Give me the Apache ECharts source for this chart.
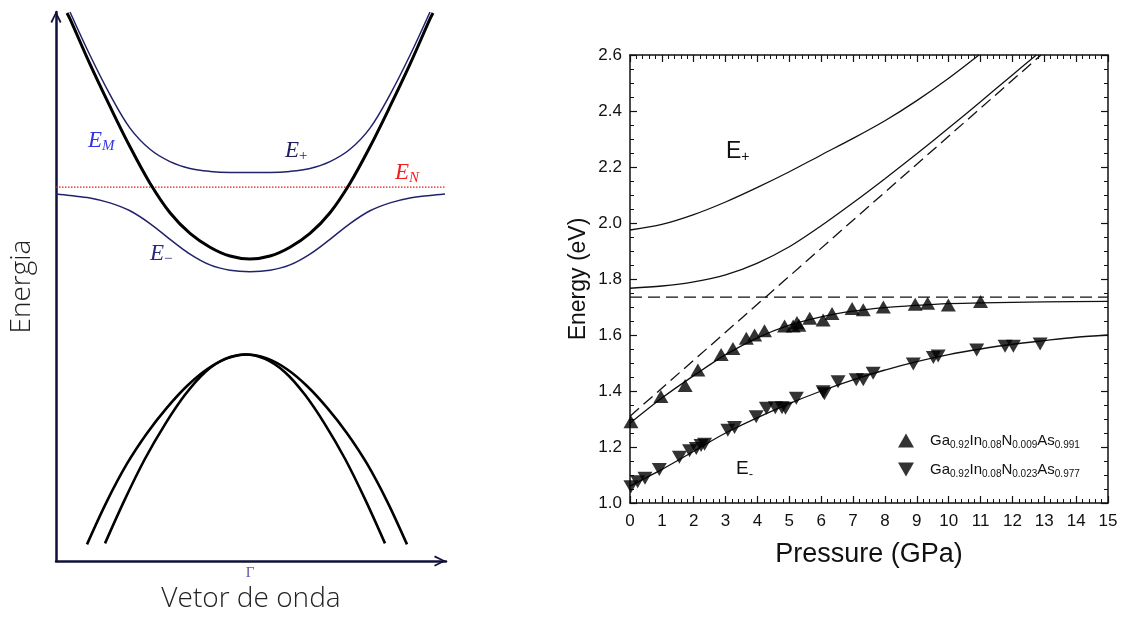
<!DOCTYPE html>
<html><head><meta charset="utf-8">
<script src="https://cdn.jsdelivr.net/npm/echarts@6/dist/echarts.min.js"></script>
<style>html,body{margin:0;padding:0;background:#fff}#c{width:1127px;height:618px}</style>
</head><body><div id="c"></div>
<script>
// ---------- Left panel: schematic band anticrossing (arbitrary units) ----------
const bandEM = [[-1.83,5.57],[-1.8,5.51],[-1.6,5.05],[-1.4,4.62],[-1.2,4.21],[-1.0,3.84],[-0.8,3.54],[-0.6,3.33],[-0.4,3.19],[-0.2,3.10],[0,3.07],[0.2,3.10],[0.4,3.19],[0.6,3.33],[0.8,3.54],[1.0,3.84],[1.2,4.21],[1.4,4.62],[1.6,5.05],[1.8,5.51],[1.83,5.57]];
const bandEplus = [[-1.8,5.58],[-1.6,5.14],[-1.4,4.74],[-1.2,4.40],[-1.0,4.185],[-0.8,4.06],[-0.6,3.99],[-0.4,3.96],[-0.2,3.95],[0,3.95],[0.2,3.95],[0.4,3.96],[0.6,3.99],[0.8,4.06],[1.0,4.185],[1.2,4.40],[1.4,4.74],[1.6,5.14],[1.8,5.58]];
const bandEminus = [[-1.94,3.73],[-1.8,3.715],[-1.6,3.69],[-1.4,3.64],[-1.2,3.56],[-1.0,3.43],[-0.8,3.27],[-0.6,3.12],[-0.4,3.01],[-0.2,2.955],[0,2.94],[0.2,2.955],[0.4,3.01],[0.6,3.12],[0.8,3.27],[1.0,3.43],[1.2,3.56],[1.4,3.64],[1.6,3.69],[1.8,3.715],[1.95,3.73]];
const levelEN = [[-1.94,3.80],[1.95,3.80]];
const valenceOuter = [[-1.63,0.17],[-1.43,0.61],[-1.23,0.99],[-1.03,1.30],[-0.83,1.56],[-0.63,1.78],[-0.43,1.95],[-0.23,2.06],[-0.03,2.10],[0.17,2.06],[0.37,1.95],[0.57,1.78],[0.77,1.56],[0.97,1.30],[1.17,0.99],[1.37,0.61],[1.57,0.17]];
const valenceInner = [[-1.45,0.18],[-1.25,0.63],[-1.05,1.04],[-0.85,1.39],[-0.65,1.69],[-0.45,1.92],[-0.25,2.055],[-0.05,2.10],[0.15,2.055],[0.35,1.92],[0.55,1.69],[0.75,1.39],[0.95,1.04],[1.15,0.63],[1.35,0.18]];
const gammaTick = [0];

// ---------- Right panel: energy vs pressure ----------
const pressureTicks = [0,1,2,3,4,5,6,7,8,9,10,11,12,13,14,15];
const energyTicks = [1.0,1.2,1.4,1.6,1.8,2.0,2.2,2.4,2.6];
const nameX009 = 'Ga0.92In0.08N0.009As0.991';
const nameX023 = 'Ga0.92In0.08N0.023As0.977';
const pts009 = [[0.03,1.29],[0.97,1.38],[1.73,1.42],[2.13,1.475],[2.86,1.53],[3.23,1.552],[3.65,1.588],[3.91,1.60],[4.22,1.615],[4.85,1.632],[5.12,1.632],[5.24,1.645],[5.3,1.635],[5.64,1.66],[6.06,1.654],[6.34,1.677],[6.97,1.695],[7.32,1.69],[7.95,1.70],[8.95,1.71],[9.34,1.713],[9.99,1.707],[11.0,1.72]];
const pts023 = [[0.03,1.058],[0.24,1.076],[0.47,1.088],[0.92,1.12],[1.55,1.163],[1.87,1.187],[2.08,1.195],[2.23,1.205],[2.34,1.21],[3.07,1.26],[3.28,1.27],[3.96,1.308],[4.28,1.338],[4.56,1.34],[4.77,1.34],[4.88,1.338],[5.22,1.374],[6.06,1.397],[6.1,1.39],[6.53,1.433],[7.1,1.44],[7.32,1.44],[7.63,1.463],[8.89,1.496],[9.52,1.52],[9.67,1.525],[10.88,1.546],[11.77,1.56],[12.03,1.56],[12.87,1.568]];
const fitMinus009 = [[0,1.285],[1,1.375],[2,1.455],[3,1.53],[4,1.59],[5,1.635],[6,1.665],[7,1.685],[8,1.698],[9,1.706],[10,1.712],[11,1.715],[13,1.718],[15,1.72]];
const fitMinus023 = [[0,1.06],[1,1.12],[2,1.185],[3,1.25],[4,1.305],[5,1.355],[6,1.40],[7,1.44],[8,1.475],[9,1.505],[10,1.53],[11,1.55],[12,1.567],[13,1.58],[14,1.592],[15,1.60]];
const fitPlus009 = [[0,1.767],[1,1.775],[2,1.79],[3,1.815],[4,1.857],[5,1.915],[6,1.99],[7,2.072],[8,2.158],[9,2.247],[10,2.339],[11,2.433],[12,2.529],[12.75,2.6]];
const fitPlus023 = [[0,1.975],[1,1.995],[2,2.03],[3,2.075],[4,2.127],[5,2.183],[6,2.243],[7,2.302],[8,2.365],[9,2.437],[10,2.517],[10.95,2.6]];
const levelN = [[0,1.735],[15,1.735]];
const hostBand = [[0,1.31],[12.9,2.6]];

const chart = echarts.init(document.getElementById('c'));
const AR = 'Liberation Sans';
const navy = '#22226a';
const axNavy = '#10103a';
const chevron = 'path://M0,12L6,0L12,12L10.2,12.9L6,3.8L1.8,12.9Z';

function richFormula(name){ return name.replace(/([A-Za-z]+)([0-9.]+)/g, '{n|$1}{s|$2}'); }

const rightTickAxis = (pos, showLabel, extra) => Object.assign({
  gridIndex: 1, type: 'value', position: pos,
  axisLine: {show: true, onZero: false, lineStyle: {color: '#111', width: 1.5}},
  axisTick: {show: true, inside: true, length: 7, lineStyle: {color: '#111', width: 1.2}},
  splitLine: {show: false},
  axisLabel: {show: showLabel, color: '#111', fontFamily: AR, fontSize: 17}
}, extra);

const option = {
  animation: false,
  backgroundColor: '#fff',
  grid: [
    {left: 56, top: 12, width: 390, height: 558},
    {left: 630, top: 55, width: 478, height: 448}
  ],
  xAxis: [
    {gridIndex: 0, type: 'value', min: -1.94, max: 1.96,
     axisLine: {show: true, onZero: false, lineStyle: {color: axNavy, width: 2.5}, symbol: ['none', chevron], symbolSize: [11, 12], symbolOffset: [0, -6]},
     axisTick: {show: false}, splitLine: {show: false},
     axisLabel: {customValues: gammaTick, formatter: () => 'Γ', color: '#5a5ab0', fontFamily: 'Liberation Serif', fontSize: 15, margin: 4},
     name: 'Vetor de onda', nameLocation: 'middle', nameGap: 23,
     nameTextStyle: {fontFamily: 'Open Sans', fontWeight: 300, fontSize: 28, color: '#222'}},
    rightTickAxis('bottom', true, {min: pressureTicks[0], max: pressureTicks[pressureTicks.length-1], interval: 1,
      minorTick: {show: true, splitNumber: 5, length: 4, lineStyle: {color: '#111', width: 1}},
      axisLabel: {show: true, color: '#111', fontFamily: AR, fontSize: 17, margin: 10},
      name: 'Pressure (GPa)', nameLocation: 'middle', nameGap: 38,
      nameTextStyle: {fontFamily: AR, fontSize: 27, color: '#111'}}),
    rightTickAxis('top', false, {min: pressureTicks[0], max: pressureTicks[pressureTicks.length-1], interval: 1,
      minorTick: {show: true, splitNumber: 5, length: 4, lineStyle: {color: '#111', width: 1}}})
  ],
  yAxis: [
    {gridIndex: 0, type: 'value', min: 0, max: 5.58,
     axisLine: {show: true, onZero: false, lineStyle: {color: axNavy, width: 2.5}, symbol: ['none', chevron], symbolSize: [11, 12], symbolOffset: [0, -5]},
     axisTick: {show: false}, splitLine: {show: false}, axisLabel: {show: false},
     name: 'Energia', nameLocation: 'middle', nameGap: 20, nameRotate: 90,
     nameTextStyle: {fontFamily: 'Open Sans', fontWeight: 300, fontSize: 28, color: '#222'}},
    rightTickAxis('left', true, {min: energyTicks[0], max: energyTicks[energyTicks.length-1], interval: 0.2,
      minorTick: {show: true, splitNumber: 4, length: 4, lineStyle: {color: '#111', width: 1}},
      axisLabel: {show: true, color: '#111', fontFamily: AR, fontSize: 17, margin: 8, formatter: v => v.toFixed(1)},
      name: 'Energy (eV)', nameLocation: 'middle', nameGap: 40, nameRotate: 90,
      nameTextStyle: {fontFamily: AR, fontSize: 23, color: '#111'}}),
    rightTickAxis('right', false, {min: energyTicks[0], max: energyTicks[energyTicks.length-1], interval: 0.2,
      minorTick: {show: true, splitNumber: 4, length: 4, lineStyle: {color: '#111', width: 1}}})
  ],
  legend: {
    data: [nameX009, nameX023], orient: 'vertical', left: 893, top: 426,
    itemWidth: 16, itemHeight: 14, itemGap: 10,
    formatter: richFormula,
    textStyle: {color: '#111', padding: [0,0,0,11], rich: {
      n: {fontFamily: AR, fontSize: 15, lineHeight: 18, color: '#111'},
      s: {fontFamily: AR, fontSize: 10, lineHeight: 10, padding: [9,0,0,0], color: '#111'}
    }}
  },
  series: [
    // left panel
    {type: 'line', xAxisIndex: 0, yAxisIndex: 0, data: levelEN, showSymbol: false, lineStyle: {color: '#f01818', width: 1.3, type: [1.5, 1.5]}},
    {type: 'line', xAxisIndex: 0, yAxisIndex: 0, data: bandEplus, smooth: 0.35, showSymbol: false, lineStyle: {color: navy, width: 1.5}},
    {type: 'line', xAxisIndex: 0, yAxisIndex: 0, data: bandEminus, smooth: 0.35, showSymbol: false, lineStyle: {color: navy, width: 1.5}},
    {type: 'line', xAxisIndex: 0, yAxisIndex: 0, data: bandEM, smooth: 0.35, showSymbol: false, lineStyle: {color: '#000', width: 3}},
    {type: 'line', xAxisIndex: 0, yAxisIndex: 0, data: valenceOuter, smooth: 0.35, showSymbol: false, lineStyle: {color: '#000', width: 2.6}},
    {type: 'line', xAxisIndex: 0, yAxisIndex: 0, data: valenceInner, smooth: 0.35, showSymbol: false, lineStyle: {color: '#000', width: 2.6}},
    // right panel
    {type: 'line', xAxisIndex: 1, yAxisIndex: 1, data: levelN, showSymbol: false, lineStyle: {color: '#111', width: 1.3, type: [12, 6]}},
    {type: 'line', xAxisIndex: 1, yAxisIndex: 1, data: hostBand, showSymbol: false, lineStyle: {color: '#111', width: 1.3, type: [12, 6]}},
    {type: 'line', xAxisIndex: 1, yAxisIndex: 1, data: fitPlus023, smooth: 0.3, showSymbol: false, lineStyle: {color: '#111', width: 1.3}},
    {type: 'line', xAxisIndex: 1, yAxisIndex: 1, data: fitPlus009, smooth: 0.3, showSymbol: false, lineStyle: {color: '#111', width: 1.3}},
    {type: 'line', xAxisIndex: 1, yAxisIndex: 1, data: fitMinus009, smooth: 0.3, showSymbol: false, lineStyle: {color: '#111', width: 1.3}},
    {type: 'line', xAxisIndex: 1, yAxisIndex: 1, data: fitMinus023, smooth: 0.3, showSymbol: false, lineStyle: {color: '#111', width: 1.3}},
    {name: nameX009, type: 'scatter', xAxisIndex: 1, yAxisIndex: 1, data: pts009, symbol: 'path://M5,0L10,8.66L0,8.66Z', symbolSize: [15, 13], itemStyle: {color: '#000'}, z: 5},
    {name: nameX023, type: 'scatter', xAxisIndex: 1, yAxisIndex: 1, data: pts023, symbol: 'path://M0,0L10,0L5,8.66Z', symbolSize: [15, 13], itemStyle: {color: '#000'}, z: 5}
  ],
  graphic: [
    {type: 'text', x: 88, y: 141, style: {text: '{e|E}{s|M}', verticalAlign: 'middle', rich: {
      e: {fontFamily: 'Liberation Serif', fontStyle: 'italic', fontSize: 23, lineHeight: 24, fill: '#3434e6'},
      s: {fontFamily: 'Liberation Serif', fontStyle: 'italic', fontSize: 15, lineHeight: 14, padding: [10,0,0,0], fill: '#3434e6'}}}},
    {type: 'text', x: 285, y: 151, style: {text: '{e|E}{s|+}', verticalAlign: 'middle', rich: {
      e: {fontFamily: 'Liberation Serif', fontStyle: 'italic', fontSize: 23, lineHeight: 24, fill: '#1e1e5e'},
      s: {fontFamily: 'Liberation Serif', fontSize: 15, lineHeight: 14, padding: [10,0,0,0], fill: '#1e1e5e'}}}},
    {type: 'text', x: 395, y: 173, style: {text: '{e|E}{s|N}', verticalAlign: 'middle', rich: {
      e: {fontFamily: 'Liberation Serif', fontStyle: 'italic', fontSize: 23, lineHeight: 24, fill: '#f02020'},
      s: {fontFamily: 'Liberation Serif', fontStyle: 'italic', fontSize: 15, lineHeight: 14, padding: [10,0,0,0], fill: '#f02020'}}}},
    {type: 'text', x: 150, y: 254, style: {text: '{e|E}{s|−}', verticalAlign: 'middle', rich: {
      e: {fontFamily: 'Liberation Serif', fontStyle: 'italic', fontSize: 23, lineHeight: 24, fill: '#2a2a7a'},
      s: {fontFamily: 'Liberation Serif', fontSize: 15, lineHeight: 14, padding: [10,0,0,0], fill: '#2a2a7a'}}}},
    {type: 'text', x: 726, y: 152, style: {text: '{e|E}{s|+}', verticalAlign: 'middle', rich: {
      e: {fontFamily: AR, fontSize: 23, lineHeight: 24, fill: '#111'},
      s: {fontFamily: AR, fontSize: 14, lineHeight: 13, padding: [11,0,0,0], fill: '#111'}}}},
    {type: 'text', x: 736, y: 469, style: {text: '{e|E}{s|-}', verticalAlign: 'middle', rich: {
      e: {fontFamily: AR, fontSize: 19, lineHeight: 20, fill: '#111'},
      s: {fontFamily: AR, fontSize: 13, lineHeight: 13, padding: [10,0,0,0], fill: '#111'}}}}
  ]
};
chart.setOption(option);
</script></body></html>
